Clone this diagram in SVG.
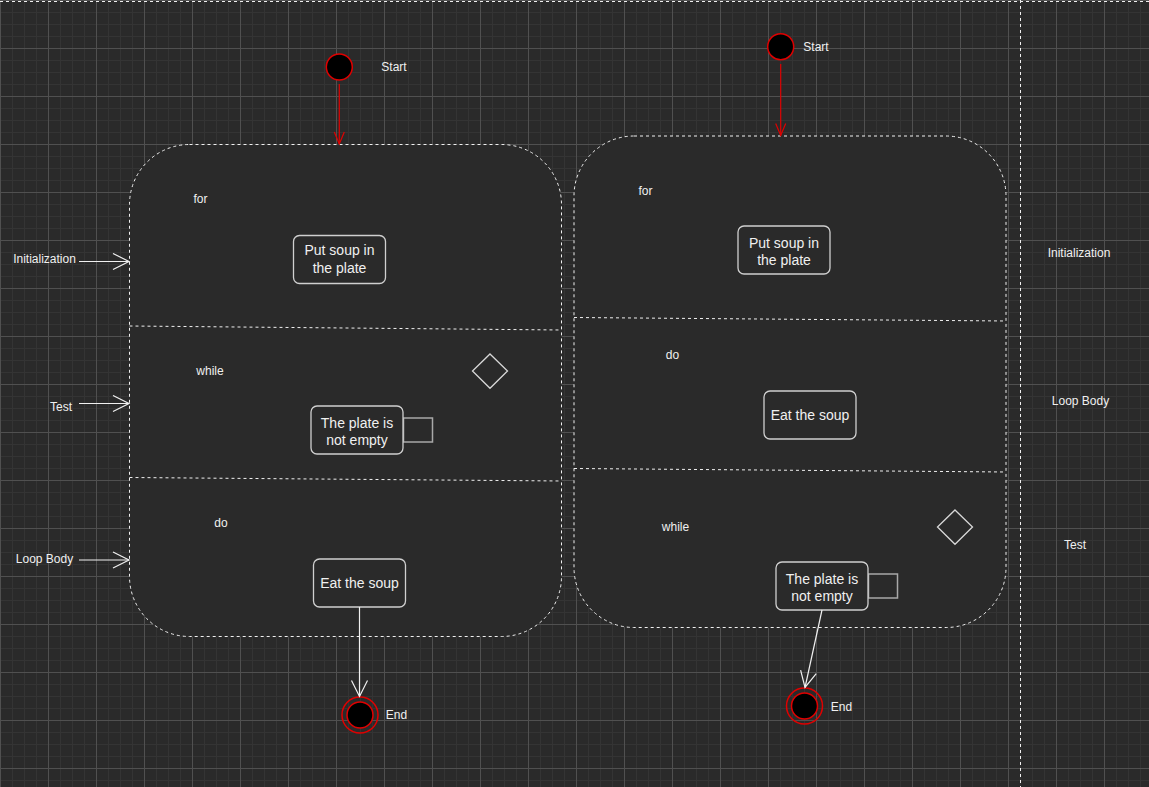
<svg xmlns="http://www.w3.org/2000/svg" width="1149" height="787" viewBox="0 0 1149 787">
<defs>
<pattern id="grid" patternUnits="userSpaceOnUse" x="0" y="0" width="48" height="48">
<rect width="48" height="48" fill="#2a2a2a"/>
<path d="M12.5 0V48M24.5 0V48M36.5 0V48M0 12.5H48M0 24.5H48M0 36.5H48" stroke="#343434" stroke-width="1"/>
<path d="M0.5 0V48M0 0.5H48" stroke="#505050" stroke-width="1"/>
</pattern>
<marker id="openW" markerUnits="userSpaceOnUse" markerWidth="20" markerHeight="20" viewBox="0 0 20 20" refX="17" refY="9" orient="auto">
<path d="M1,1 L17,9 L1,17" fill="none" stroke="#f0f0f0" stroke-width="1.2"/>
</marker>
<marker id="openR" markerUnits="userSpaceOnUse" markerWidth="16" markerHeight="14" viewBox="0 0 16 14" refX="13" refY="6" orient="auto">
<path d="M1,1 L13,6 L1,11" fill="none" stroke="#e00000" stroke-width="1.2"/>
</marker>
</defs>
<style>
.lbl{font-family:"Liberation Sans",Arial,sans-serif;font-size:12px;fill:#f0f0f0}
.txt{font-family:"Liberation Sans",Arial,sans-serif;font-size:14px;fill:#f0f0f0;text-anchor:middle}
.c{text-anchor:middle}
.cont{fill:#2a2a2a;stroke:#f0f0f0;stroke-width:1;stroke-dasharray:3 3}
.div{fill:none;stroke:#f0f0f0;stroke-width:1;stroke-dasharray:3 3}
.box{fill:#2a2a2a;stroke:#d0d0d0;stroke-width:1.3}
.side{fill:#2a2a2a;stroke:#a8a8a8;stroke-width:1.5}
.dia{fill:#2a2a2a;stroke:#d8d8d8;stroke-width:1.3}
.start{fill:#000;stroke:#e00000;stroke-width:1.5}
.endo{fill:none;stroke:#e00000;stroke-width:1.5}
.edge{fill:none;stroke:#f0f0f0;stroke-width:1.2}
.redge{fill:none;stroke:#e00000;stroke-width:1.2}
</style>
<rect width="1149" height="787" fill="url(#grid)"/>
<g id="frame">
<path d="M0 1.5H1149M1020.5 0V787" class="div"/>
</g>

<g id="loop-for">
<rect class="cont" x="129.5" y="144.5" width="432" height="492" rx="60" ry="60"/>
<path class="div" d="M129.5 326L561.5 330"/>
<path class="div" d="M129.5 477.5L561.5 481"/>
<text class="lbl c" x="200.5" y="203">for</text>
<text class="lbl c" x="210" y="375">while</text>
<text class="lbl c" x="221" y="527">do</text>
</g>

<g id="loop-dowhile">
<rect class="cont" x="574" y="136" width="432" height="491.5" rx="60" ry="60"/>
<path class="div" d="M574 317.5L1006 321"/>
<path class="div" d="M574 468.5L1006 472"/>
<text class="lbl c" x="645.5" y="195">for</text>
<text class="lbl c" x="672.5" y="359">do</text>
<text class="lbl c" x="675.5" y="531">while</text>
</g>

<g id="start-left">
<circle class="start" cx="339.3" cy="67" r="13"/>
<text class="lbl c" x="394" y="71">Start</text>
</g>
<g id="start-right">
<circle class="start" cx="780.7" cy="46.7" r="13"/>
<text class="lbl c" x="816" y="51">Start</text>
</g>

<g id="init-left">
<rect class="box" x="293.5" y="235.5" width="92" height="48" rx="6"/>
<text class="txt" x="339.5" y="255">Put soup in</text>
<text class="txt" x="339.5" y="273">the plate</text>
</g>
<g id="test-left">
<rect class="side" x="403.5" y="418" width="29" height="24"/>
<rect class="box" x="311" y="406" width="92" height="48" rx="6"/>
<text class="txt" x="357" y="427.5">The plate is</text>
<text class="txt" x="357" y="445">not empty</text>
</g>
<polygon id="decision-left" class="dia" points="490,354 507.5,371 490,388.3 472.5,371"/>
<g id="body-left">
<rect class="box" x="313.5" y="559" width="92" height="48" rx="6"/>
<text class="txt" x="359.5" y="587.5">Eat the soup</text>
</g>
<g id="end-left">
<circle class="endo" cx="360" cy="715" r="18"/>
<circle class="start" cx="360" cy="715" r="13"/>
<text class="lbl c" x="396.5" y="719">End</text>
</g>

<g id="init-right">
<rect class="box" x="738" y="226" width="92" height="48" rx="6"/>
<text class="txt" x="784" y="247.5">Put soup in</text>
<text class="txt" x="784" y="265">the plate</text>
</g>
<g id="body-right">
<rect class="box" x="764" y="391" width="92" height="48" rx="6"/>
<text class="txt" x="810" y="419.5">Eat the soup</text>
</g>
<g id="test-right">
<rect class="side" x="868.5" y="574" width="29" height="24"/>
<rect class="box" x="776" y="562" width="92" height="48" rx="6"/>
<text class="txt" x="822" y="583.5">The plate is</text>
<text class="txt" x="822" y="601">not empty</text>
</g>
<polygon id="decision-right" class="dia" points="955,510 972.5,527 955,544.3 937.5,527"/>
<g id="end-right">
<circle class="endo" cx="804.5" cy="706" r="18"/>
<circle class="start" cx="804.5" cy="706" r="13"/>
<text class="lbl c" x="841.5" y="711">End</text>
</g>

<g id="labels-left">
<text class="lbl c" x="44.5" y="263">Initialization</text>
<text class="lbl c" x="61" y="411">Test</text>
<text class="lbl c" x="44.5" y="563">Loop Body</text>
</g>
<g id="labels-right">
<text class="lbl c" x="1079" y="257">Initialization</text>
<text class="lbl c" x="1080.5" y="405">Loop Body</text>
<text class="lbl c" x="1075" y="549">Test</text>
</g>

<g id="connectors">
<path class="redge" d="M339.3 84V144" marker-end="url(#openR)"/>
<path class="redge" d="M780.7 64V135.5" marker-end="url(#openR)"/>
<path class="edge" d="M359.5 607V696.5" marker-end="url(#openW)"/>
<path class="edge" d="M822 610L805 687.5" marker-end="url(#openW)"/>
<path class="edge" d="M79 261.5H129" marker-end="url(#openW)"/>
<path class="edge" d="M79 403.5H129" marker-end="url(#openW)"/>
<path class="edge" d="M79 560H129" marker-end="url(#openW)"/>
</g>
</svg>
